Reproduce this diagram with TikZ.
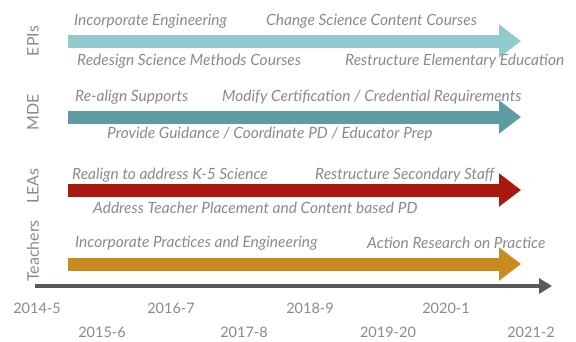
\documentclass[tikz,border=0pt]{standalone}
\usepackage{fontspec}
\setmainfont{Lato}
\usetikzlibrary{arrows.meta}
\definecolor{epicol}{HTML}{92CAD0}
\definecolor{mdecol}{HTML}{5E9CA3}
\definecolor{leacol}{HTML}{A9190F}
\definecolor{teachcol}{HTML}{C98B1E}
\definecolor{timecol}{HTML}{555A5A}
\definecolor{textgray}{HTML}{8A8A8A}
\begin{document}
\begin{tikzpicture}[x=1pt,y=-1pt,
    bigarrow/.style={line width=13pt, -{Triangle[length=22pt,width=32pt]}},
    note/.style={anchor=west, inner sep=0pt, text=textgray, font=\fontsize{15.5}{17}\selectfont\itshape},
    year/.style={inner sep=0pt, text=textgray, font=\fontsize{14.5}{16}\selectfont},
    group/.style={rotate=90, inner sep=0pt, text=textgray, font=\fontsize{16}{18}\selectfont}]
    \useasboundingbox (0,0) rectangle (576,341);
    % rows
    \node[group] (epis) at (33,41) {EPIs};
    \node[group] (mde) at (33,112) {MDE};
    \node[group] (leas) at (33,186) {LEAs};
    \node[group] (teachers) at (33,251) {Teachers};
    \coordinate (epiS) at (68,41);   \coordinate (epiE) at (521,41);
    \coordinate (mdeS) at (68,117);  \coordinate (mdeE) at (521,117);
    \coordinate (leaS) at (68,190);  \coordinate (leaE) at (521,190);
    \coordinate (teaS) at (68,264);  \coordinate (teaE) at (521,264);
    \draw[bigarrow, epicol] (epiS) -- (epiE);
    \draw[bigarrow, mdecol] (mdeS) -- (mdeE);
    \draw[bigarrow, leacol] (leaS) -- (leaE);
    \draw[bigarrow, teachcol] (teaS) -- (teaE);
    % EPIs
    \node[note] (epi1) at (74,21) {Incorporate Engineering};
    \node[note] (epi2) at (266,21) {Change Science Content Courses};
    \node[note] (epi3) at (77,61) {Redesign Science Methods Courses};
    \node[note] (epi4) at (345,61) {Restructure Elementary Education};
    % MDE
    \node[note] (mde1) at (75,97) {Re-align Supports};
    \node[note] (mde2) at (222,97) {Modify Certification / Credential Requirements};
    \node[note] (mde3) at (107,134) {Provide Guidance / Coordinate PD / Educator Prep};
    % LEAs
    \node[note] (lea1) at (72,175) {Realign to address K-5 Science};
    \node[note] (lea2) at (315,175) {Restructure Secondary Staff};
    \node[note] (lea3) at (93,208) {Address Teacher Placement and Content based PD};
    % Teachers
    \node[note] (tea1) at (75,243) {Incorporate Practices and Engineering};
    \node[note] (tea2) at (367,243) {Action Research on Practice};
    % timeline
    \coordinate (tS) at (35,286); \coordinate (tE) at (552,286);
    \draw[timecol, line width=3.5pt, -{Triangle[length=13pt,width=15pt]}] (tS) -- (tE);
    \foreach \yr/\xx in {2014-5/37, 2016-7/171, 2018-9/310, 2020-1/446}
        \node[year] at (\xx,308) {\yr};
    \foreach \yr/\xx in {2015-6/102, 2017-8/244, 2019-20/388, 2021-2/531}
        \node[year] at (\xx,332) {\yr};
\end{tikzpicture}
\end{document}
